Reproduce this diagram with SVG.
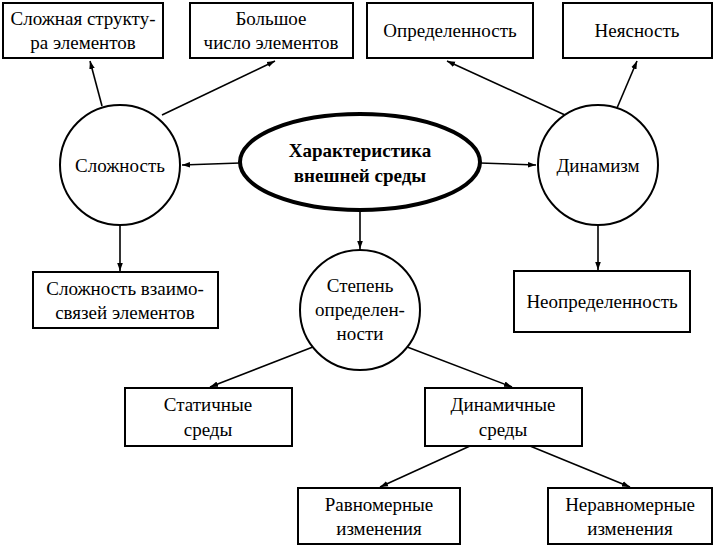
<svg xmlns="http://www.w3.org/2000/svg" width="720" height="549" viewBox="0 0 720 549">
<style>
rect,circle,ellipse{fill:#fff;stroke:#000;stroke-width:2}
text{font-family:"Liberation Serif",serif;font-size:19px;text-anchor:middle;fill:#000}
.c line{stroke:#000;stroke-width:1.6;marker-end:url(#a)}
</style>
<defs><marker id="a" viewBox="0 0 10 10" refX="10" refY="5" markerWidth="8" markerHeight="8" markerUnits="userSpaceOnUse" orient="auto"><path d="M0,1.5L10,5L0,8.5z" fill="#000"/></marker></defs>
<rect width="720" height="549" fill="#fff" style="stroke:none"/>
<g class="c">
<line x1="102" y1="106" x2="90" y2="61"/>
<line x1="162" y1="115" x2="275" y2="61"/>
<line x1="240" y1="163" x2="182" y2="165"/>
<line x1="480" y1="163" x2="536" y2="165"/>
<line x1="565" y1="115" x2="447" y2="61"/>
<line x1="617" y1="108" x2="637" y2="61"/>
<line x1="120" y1="225" x2="120" y2="271"/>
<line x1="598" y1="225" x2="598" y2="270"/>
<line x1="360" y1="210" x2="360" y2="249"/>
<line x1="318" y1="345" x2="210" y2="387"/>
<line x1="402" y1="345" x2="512" y2="387"/>
<line x1="470" y1="446" x2="380" y2="487"/>
<line x1="530" y1="446" x2="630" y2="487"/>
</g>
<g id="n1"><rect x="3" y="3" width="160" height="55"/><text x="83" y="25">Сложная структу-</text><text x="83" y="49">ра элементов</text></g>
<g id="n2"><rect x="190" y="3" width="163" height="55"/><text x="271" y="25">Большое</text><text x="271" y="49">число элементов</text></g>
<g id="n3"><rect x="367" y="3" width="166" height="55"/><text x="450" y="37">Определенность</text></g>
<g id="n4"><rect x="563" y="3" width="149" height="55"/><text x="637" y="37">Неясность</text></g>
<g id="n5"><circle cx="120" cy="165" r="60"/><text x="120" y="172">Сложность</text></g>
<g id="n6"><ellipse cx="360" cy="162" rx="120" ry="48" style="stroke-width:4"/><text x="360" y="157" font-weight="bold">Характеристика</text><text x="360" y="182" font-weight="bold">внешней среды</text></g>
<g id="n7"><circle cx="598" cy="165" r="60"/><text x="598" y="172">Динамизм</text></g>
<g id="n8"><rect x="33" y="272" width="185" height="56"/><text x="125" y="295">Сложность взаимо-</text><text x="125" y="319">связей элементов</text></g>
<g id="n9"><circle cx="360" cy="310" r="60"/><text x="360" y="292">Степень</text><text x="360" y="316">определен-</text><text x="360" y="340">ности</text></g>
<g id="n10"><rect x="514" y="271" width="176" height="61"/><text x="602" y="308">Неопределенность</text></g>
<g id="n11"><rect x="125" y="388" width="167" height="58"/><text x="208" y="411">Статичные</text><text x="208" y="436">среды</text></g>
<g id="n12"><rect x="425" y="388" width="157" height="58"/><text x="503" y="411">Динамичные</text><text x="503" y="436">среды</text></g>
<g id="n13"><rect x="298" y="488" width="162" height="56"/><text x="379" y="511">Равномерные</text><text x="379" y="535">изменения</text></g>
<g id="n14"><rect x="548" y="488" width="164" height="56"/><text x="630" y="511">Неравномерные</text><text x="630" y="535">изменения</text></g>
</svg>
